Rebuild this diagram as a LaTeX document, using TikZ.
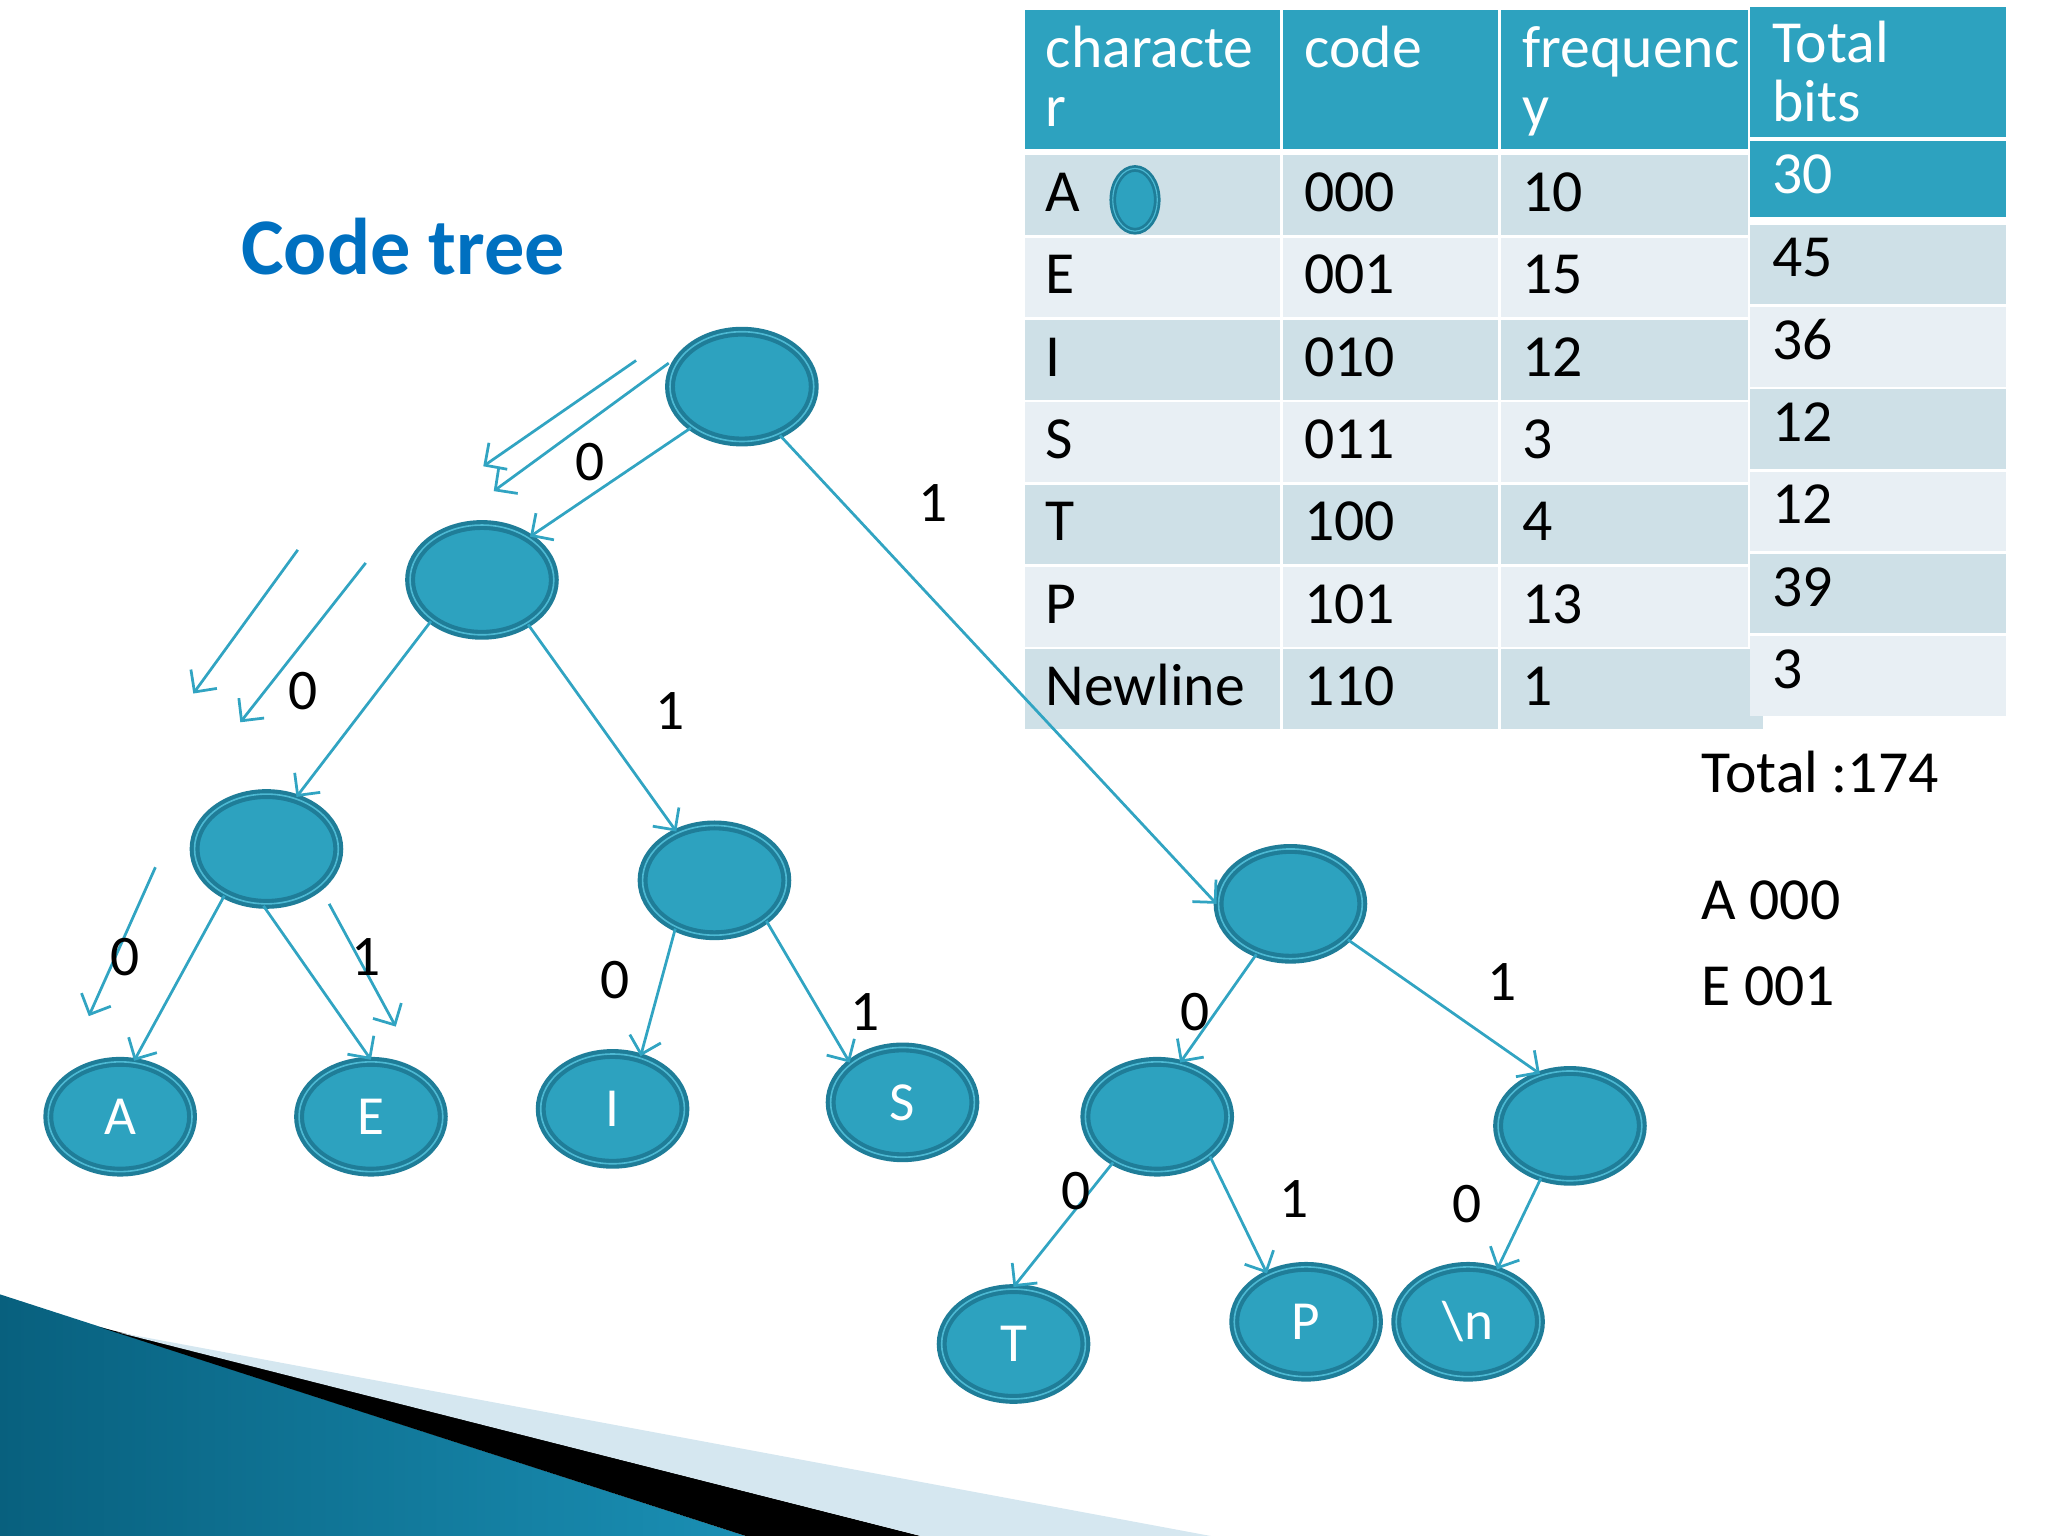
\documentclass[tikz,border=0pt]{standalone}
\usepackage{fontspec}
\setmainfont{Carlito}
\usetikzlibrary{
	shapes.geometric,
	arrows.meta
}
\definecolor{hufteal}{HTML}{2DA2BF}
\definecolor{hufrim}{HTML}{1F7D98}
\definecolor{hufring}{HTML}{4DB9D3}
\definecolor{hufedge}{HTML}{31A4C2}
\definecolor{hufdark}{HTML}{CEE0E7}
\definecolor{huflight}{HTML}{E8EFF4}
\definecolor{huftitle}{HTML}{0070C0}
\definecolor{decodark}{HTML}{08607E}
\definecolor{decolight}{HTML}{6CC8E6}
\definecolor{decomid}{HTML}{1A8FB4}
\definecolor{decopale}{HTML}{D5E7F0}
\tikzset{
	tree node/.style={
		ellipse,
		fill=hufteal,
		draw=hufrim,
		double=hufring,
		line width=0.9pt,
		double distance=0.35pt,
		minimum width=1.1cm,
		minimum height=0.84cm,
		inner sep=0pt,
		text=white,
		font=\fontsize{12}{14}\selectfont
	},
	tree edge/.style={
		draw=hufedge,
		line width=0.6pt,
		-{Straight Barb[length=3.5pt,width=7pt]}
	},
	bit label/.style={
		inner sep=0pt,
		font=\fontsize{12.5}{15}\selectfont
	},
	cell text/.style={
		anchor=base west,
		inner sep=0pt,
		font=\fontsize{13}{12.8}\selectfont
	},
	head text/.style={
		cell text,
		text=white,
		align=left
	}
}

\begin{document}
\begin{tikzpicture}[x=0.01cm,y=-0.01cm] %%%%%%%% CODE TREE
		\useasboundingbox (0,0) rectangle (1568,1176);
		% corner
		\shade[left color=decodark, middle color=decolight, right color=decomid] (0,991) -- (571,1176) -- (0,1176) -- cycle;
		\fill[black] (76,1016) -- (705,1176) -- (571,1176) -- cycle;
		\fill[decopale] (90,1020) -- (927,1176) -- (705,1176) -- cycle;
		% table
		\foreach \xa/\xb in {785/980, 982/1147, 1149/1338}
			\fill[hufteal] (\xa,8) rectangle (\xb,114);
		\fill[hufteal] (1340,5) rectangle (1536,105);
		\fill[hufteal] (1340,108) rectangle (1536,166);
		\node[head text] (h-char) at (800,97) {characte\\r};
		\node[head text] (h-code) at (998,52) {code};
		\node[head text] (h-freq) at (1165,97) {frequenc\\y};
		\node[head text] (h-bits) at (1356,93) {Total\\bits};
		\node[cell text, text=white] (bits-0) at (1356,148) {30};
		\foreach \ch/\cd/\fr [count=\i] in {A/000/10, E/001/15, I/010/12, S/011/3, T/100/4, P/101/13, Newline/110/1}{
			\pgfmathsetmacro\rowy{119+63*(\i-1)}
			\ifodd\i \def\rowcol{hufdark}\else \def\rowcol{huflight}\fi
			\foreach \xa/\xb in {785/980, 982/1147, 1149/1338}
				\fill[\rowcol] (\xa,\rowy) rectangle (\xb,\rowy+61);
			\node[cell text] (ch-\i) at (800,\rowy+43) {\ch};
			\node[cell text] (cd-\i) at (998,\rowy+43) {\cd};
			\node[cell text] (fr-\i) at (1165,\rowy+43) {\fr};
		}
		\fill[hufdark] (1338,497) rectangle (1350,558);
		\foreach \tb [count=\i] in {45,36,12,12,39,3}{
			\pgfmathsetmacro\rowy{172+63*(\i-1)}
			\ifodd\i \def\rowcol{hufdark}\else \def\rowcol{huflight}\fi
			\fill[\rowcol] (1340,\rowy) rectangle (1536,\rowy+61);
			\node[cell text] (bits-\i) at (1356,\rowy+40) {\tb};
		}
		\node[tree node, minimum width=0.34cm, minimum height=0.48cm, line width=0.6pt, double distance=0.25pt] (blob) at (869,153) {};
		% text
		\node[anchor=base west, inner sep=0pt, text=huftitle, font=\bfseries\fontsize{17.5}{20}\selectfont] (title) at (184,210) {Code tree};
		\node[cell text] (total) at (1302,607) {Total :174};
		\node[cell text] (code-A) at (1302,704) {A 000};
		\node[cell text] (code-E) at (1302,770) {E 001};
		% tree
		\node[tree node] (root) at (568,296) {};
		\node[tree node] (l) at (369,444) {};
		\node[tree node] (ll) at (204,650) {};
		\node[tree node] (lr) at (547,674) {};
		\node[tree node] (r) at (988,692) {};
		\node[tree node] (A) at (92,855) {A};
		\node[tree node] (E) at (284,855) {E};
		\node[tree node] (I) at (469,849) {I};
		\node[tree node] (S) at (691,844) {S};
		\node[tree node] (rl) at (886,855) {};
		\node[tree node] (rr) at (1202,862) {};
		\node[tree node] (T) at (776,1029) {T};
		\node[tree node] (P) at (1000,1012) {P};
		\node[tree node] (nl) at (1124,1012) {\textbackslash n};
		\draw[tree edge] (root.219) -- (l.42);
		\draw[tree edge] (root.308) -- (r.180);
		\draw[tree edge] (l.219) -- (ll.60);
		\draw[tree edge] (l.316) -- (lr.128);
		\draw[tree edge] (ll.228) -- (A.76);
		\draw[tree edge] (ll.267) -- (E.90);
		\draw[tree edge] (lr.231) -- (I.62);
		\draw[tree edge] (lr.322) -- (S.143);
		\draw[tree edge] (r.236) -- (rl.67);
		\draw[tree edge] (r.328) -- (rr.120);
		\draw[tree edge] (rl.226) -- (T.90);
		\draw[tree edge] (rl.323) -- (P.129);
		\draw[tree edge] (rr.241) -- (nl.61);
		% loose arrows
		\coordinate (s1a) at (487,276);
		\coordinate (s1b) at (370,357);
		\coordinate (s2a) at (512,278);
		\coordinate (s2b) at (378,376);
		\coordinate (s3a) at (228,421);
		\coordinate (s3b) at (148,531);
		\coordinate (s4a) at (280,431);
		\coordinate (s4b) at (184,553);
		\coordinate (s5a) at (119,664);
		\coordinate (s5b) at (68,778);
		\coordinate (s6a) at (252,692);
		\coordinate (s6b) at (303,786);
		\foreach \k in {1,...,6}
			\draw[tree edge] (s\k a) -- (s\k b);
		% bits
		\node[bit label] (b-root-0) at (452,354) {0};
		\node[bit label] (b-root-1) at (714,385) {1};
		\node[bit label] (b-l-0) at (232,529) {0};
		\node[bit label] (b-l-1) at (513,544) {1};
		\node[bit label] (b-ll-0) at (96,733) {0};
		\node[bit label] (b-ll-1) at (280,733) {1};
		\node[bit label] (b-lr-0) at (471,750) {0};
		\node[bit label] (b-lr-1) at (662,775) {1};
		\node[bit label] (b-r-0) at (915,775) {0};
		\node[bit label] (b-r-1) at (1150,752) {1};
		\node[bit label] (b-rl-0) at (824,912) {0};
		\node[bit label] (b-rl-1) at (991,918) {1};
		\node[bit label] (b-rr-0) at (1123,922) {0};
	\end{tikzpicture}
\end{document}
